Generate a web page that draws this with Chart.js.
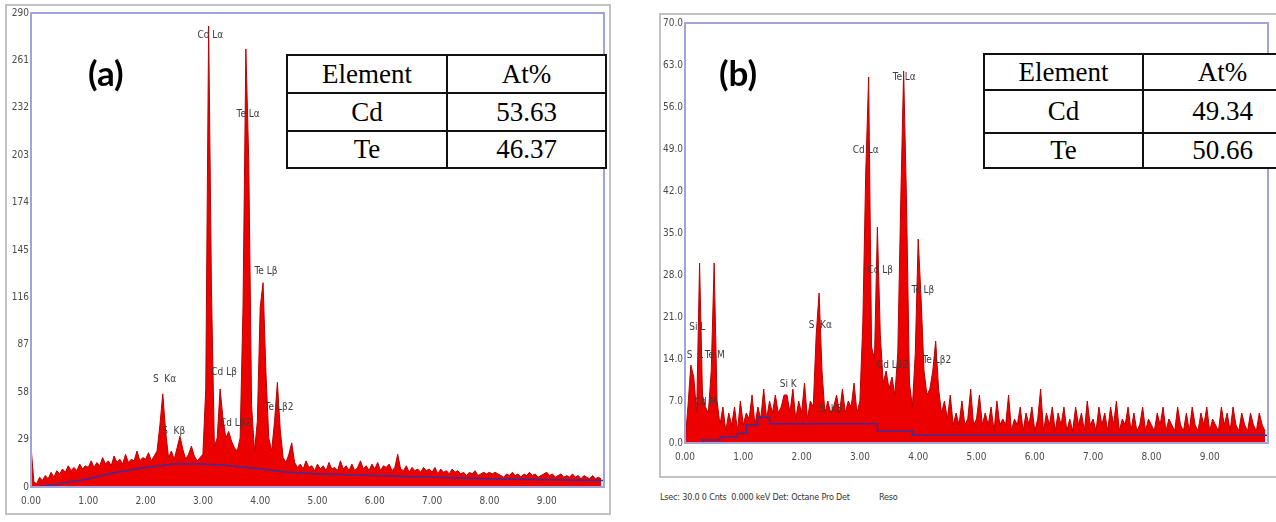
<!DOCTYPE html>
<html lang="en">
<head>
<meta charset="UTF-8">
<title>EDS spectra (a) and (b)</title>
<script src="https://cdn.jsdelivr.net/npm/chart.js@4.4.0/dist/chart.umd.min.js"></script>
<style>
    body {
        margin: 0;
        width: 1276px;
        height: 522px;
        background: #fff;
        position: relative;
        overflow: hidden;
        font-family: 'Liberation Sans', Arial, sans-serif;
    }

    .frame {
        position: absolute;
        border: 2px solid #c2c2c2;
        box-sizing: border-box;
    }

    canvas {
        position: absolute;
    }

    .tag {
        position: absolute;
        font: bold 35px Lato, 'Open Sans', sans-serif;
        color: #000;
    }

    table.at {
        position: absolute;
        border-collapse: collapse;
        font-family: 'Liberation Serif', 'Times New Roman', serif;
        font-size: 27px;
        background: #fff;
        table-layout: fixed;
    }

    table.at td {
        border: 2px solid #111;
        text-align: center;
        padding: 0;
        line-height: 1;
    }

    .caption {
        position: absolute;
        font: 9px 'Liberation Sans Narrow', 'DejaVu Sans Condensed', sans-serif;
        letter-spacing: -0.2px;
        color: #333;
        white-space: pre;
    }
</style>
</head>
<body>
    <div class="frame" style="left:5px; top:4px; width:606px; height:511px;"></div>
    <div class="frame" style="left:659px; top:13px; width:640px; height:465px;"></div>

    <canvas id="chartA" width="612" height="522" style="left:0; top:0;"></canvas>
    <canvas id="chartB" width="616" height="462" style="left:660px; top:15px;"></canvas>

    <div class="tag" style="left:88px; top:51px;">(a)</div>
    <div class="tag" style="left:719px; top:51px;">(b)</div>

    <table class="at" id="tableA" style="left:286px; top:54px; width:321px;"></table>
    <table class="at" id="tableB" style="left:983px; top:53px; width:320px;"></table>

    <div class="caption" style="left:660px; top:492px;">Lsec: 30.0 0 Cnts  0.000 keV Det: Octane Pro Det</div>
    <div class="caption" style="left:879px; top:492px;">Reso</div>

<script>
    // channel width of both spectra (keV)
    const STEP = 0.05;

    // counts per channel, 0.00 .. 9.95 keV
    const countsA = [
        25, 3, 2, 6, 4, 7, 5, 9, 6, 10,
        8, 11, 9, 13, 10, 12, 10, 14, 11, 13,
        12, 16, 12, 15, 13, 18, 14, 16, 13, 19,
        15, 17, 14, 20, 15, 17, 16, 22, 16, 18,
        17, 21, 16, 19, 22, 38, 57, 34, 18, 22,
        17, 24, 31, 23, 17, 20, 25, 19, 16, 18,
        20, 60, 282, 120, 25, 30, 60, 42, 30, 34,
        28, 24, 22, 30, 110, 268, 200, 50, 22, 40,
        110, 125, 70, 30, 22, 40, 64, 35, 18, 15,
        20, 27, 15, 12, 14, 11, 16, 12, 13, 10,
        14, 11, 13, 10, 15, 11, 12, 10, 16, 11,
        13, 10, 14, 10, 12, 16, 11, 13, 10, 14,
        11, 15, 10, 13, 12, 14, 10, 12, 20, 11,
        10, 13, 9, 12, 10, 11, 9, 12, 10, 11,
        9, 12, 8, 11, 9, 10, 8, 11, 9, 10,
        8, 9, 7, 9, 8, 10, 7, 8, 9, 8,
        9, 8, 9, 8, 7, 6, 8, 7, 9, 7,
        8, 6, 8, 7, 9, 7, 8, 6, 7, 8,
        9, 7, 8, 6, 7, 8, 6, 7, 6, 8,
        6, 7, 5, 7, 6, 5, 7, 5, 6, 5
    ];

    const countsB = [
        0, 6, 13, 11, 5, 30, 8, 6, 5, 12,
        30, 7, 3, 6, 2, 5, 3, 6, 2, 7,
        3, 5, 4, 8, 3, 6, 4, 9, 4, 7,
        5, 8, 5, 6, 8, 8, 5, 9, 4, 7,
        5, 10, 4, 7, 6, 18, 25, 12, 5, 7,
        5, 6, 8, 5, 9, 5, 7, 6, 10, 5,
        7, 20, 45, 61, 16, 14, 36, 18, 10, 12,
        9, 11, 8, 15, 40, 62, 40, 10, 6, 15,
        34, 24, 12, 8, 9, 12, 17, 9, 5, 7,
        4, 8, 3, 5, 3, 7, 3, 4, 9, 3,
        4, 8, 3, 5, 3, 6, 2, 7, 3, 4,
        3, 8, 2, 4, 3, 6, 2, 5, 3, 6,
        2, 4, 9, 2, 5, 3, 6, 2, 5, 3,
        6, 2, 4, 2, 6, 3, 5, 2, 7, 3,
        4, 2, 6, 3, 5, 2, 6, 3, 7, 2,
        4, 3, 6, 2, 5, 2, 3, 6, 2, 4,
        3, 2, 5, 3, 6, 2, 4, 3, 2, 6,
        3, 2, 5, 2, 6, 3, 2, 5, 3, 6,
        2, 4, 3, 2, 6, 3, 5, 2, 6, 3,
        2, 5, 3, 2, 5, 3, 2, 5, 3, 2
    ];

    // fitted background (blue line)
    const bgEnergyA = [0.1, 0.5, 1.0, 1.5, 2.0, 2.5, 3.0, 3.5, 4.0, 4.5, 5.0, 6.0, 7.0, 8.0, 9.0, 10.0];
    const bgCountsA = [0, 2, 5, 9, 12, 14, 14, 13, 11, 9, 8, 7, 6, 5, 4.5, 4];
    const bgEnergyB = [0.3, 0.6, 0.9, 1.05, 1.25, 1.45, 3.3, 3.9, 5.6, 10.0];
    const bgCountsB = [0, 0.5, 1, 1.6, 3, 4.3, 3.2, 2, 1.3, 1.3];

    // peak labels: text, energy (keV), height (counts)
    const peakNamesA = ['Cd Lα', 'Te Lα', 'Te Lβ', 'Cd Lβ', 'Cd Lβ2', 'Te Lβ2', 'S  Kα', 'S  Kβ'];
    const peakEnergyA = [3.13, 3.79, 4.10, 3.37, 3.57, 4.33, 2.33, 2.49];
    const peakHeightA = [276, 228, 132, 70, 39, 49, 66, 34];

    const peakNamesB = ['Cd Lα', 'Te Lα', 'Cd Lβ', 'Te Lβ', 'Cd Lβ2', 'Te Lβ2', 'S  Kα', 'Si K', 'S  Kβ', 'Si L', 'S  L', 'Te M', 'Cd M'];
    const peakEnergyB = [3.10, 3.76, 3.35, 4.08, 3.56, 4.32, 2.32, 1.77, 2.50, 0.21, 0.17, 0.51, 0.36];
    const peakHeightB = [48.7, 61, 28.8, 25.4, 13, 13.8, 19.6, 9.8, 5.6, 19.3, 14.6, 14.6, 6.8];

    // composition tables
    const elements = ['Cd', 'Te'];
    const atPercentA = ['53.63', '46.37'];
    const atPercentB = ['49.34', '50.66'];

    const tickFont = { family: "'Liberation Sans Narrow', 'DejaVu Sans Condensed', sans-serif", size: 10 };

    function fillTable(id, values, firstCol, rowHeights)
    {
        const rows = [['Element', 'At%']].concat(elements.map((e, i) => [e, values[i]]));
        document.getElementById(id).innerHTML = rows.map((r, i) =>
            `<tr style="height:${rowHeights[i]}px"><td style="width:${firstCol}px">${r[0]}</td><td>${r[1]}</td></tr>`
        ).join('');
    }

    const frameAndLabels = {
        id: 'frameAndLabels',
        afterDatasetsDraw(chart, args, opts)
        {
            const { ctx, chartArea: a, scales } = chart;
            ctx.save();
            ctx.strokeStyle = '#a3a3dc';
            ctx.lineWidth = 2;
            ctx.strokeRect(a.left, a.top, a.right - a.left, a.bottom - a.top);
            ctx.font = "10px 'Liberation Sans Narrow', 'DejaVu Sans Condensed', sans-serif";
            ctx.fillStyle = '#3c3c3c';
            ctx.textAlign = 'center';
            ctx.textBaseline = 'middle';
            opts.names.forEach((n, i) =>
            {
                ctx.fillText(n, scales.x.getPixelForValue(opts.energies[i]), scales.y.getPixelForValue(opts.heights[i]));
            });
            ctx.restore();
        }
    };

    function makeChart(id, counts, bgE, bgC, yMax, yStep, yDigits, bgStepped, pad, yWidth, labels)
    {
        const spectrum = counts.map((c, i) => ({ x: +(i * STEP).toFixed(2), y: c }));
        const background = bgE.map((e, i) => ({ x: e, y: bgC[i] }));

        return new Chart(document.getElementById(id), {
            type: 'line',
            data: {
                datasets: [
                    {
                        // background fit, drawn on top of the spectrum
                        data: background,
                        borderColor: '#3b2d9c',
                        borderWidth: 1.5,
                        fill: false,
                        pointRadius: 0,
                        stepped: bgStepped ? 'after' : false,
                        tension: 0
                    },
                    {
                        data: spectrum,
                        borderColor: 'rgb(185, 0, 0)',
                        backgroundColor: 'rgb(236, 0, 0)',
                        borderWidth: 1,
                        fill: 'origin',
                        pointRadius: 0,
                        tension: 0
                    }
                ]
            },
            options: {
                responsive: false,
                animation: false,
                layout: { padding: pad },
                scales: {
                    x: {
                        type: 'linear',
                        min: 0,
                        max: 10,
                        grid: { display: false, drawTicks: false, tickLength: 0 },
                        border: { display: false },
                        ticks: {
                            stepSize: 1,
                            autoSkip: false,
                            maxRotation: 0,
                            color: '#4a4a4a',
                            font: tickFont,
                            padding: 8,
                            callback: v => v < 10 ? v.toFixed(2) : ''
                        },
                        afterFit: s => { s.height = 26; }
                    },
                    y: {
                        min: 0,
                        max: yMax,
                        grid: { display: false, drawTicks: false, tickLength: 0 },
                        border: { display: false },
                        ticks: {
                            stepSize: yStep,
                            color: '#4a4a4a',
                            font: tickFont,
                            padding: 2,
                            callback: v => v.toFixed(yDigits)
                        },
                        afterFit: s => { s.width = yWidth; }
                    }
                },
                plugins: {
                    legend: { display: false },
                    tooltip: { enabled: false },
                    frameAndLabels: labels
                }
            },
            plugins: [frameAndLabels]
        });
    }

    makeChart('chartA', countsA, bgEnergyA, bgCountsA, 290, 29, 0, false,
        { left: 7, top: 13, right: 7, bottom: 9 }, 24,
        { names: peakNamesA, energies: peakEnergyA, heights: peakHeightA });

    makeChart('chartB', countsB, bgEnergyB, bgCountsB, 70, 7, 1, true,
        { left: 3, top: 5, right: 1, bottom: 8 }, 22,
        { names: peakNamesB, energies: peakEnergyB, heights: peakHeightB });

    fillTable('tableA', atPercentA, 158, [38, 38, 37]);
    fillTable('tableB', atPercentB, 157, [36, 43, 35]);
</script>
</body>
</html>
